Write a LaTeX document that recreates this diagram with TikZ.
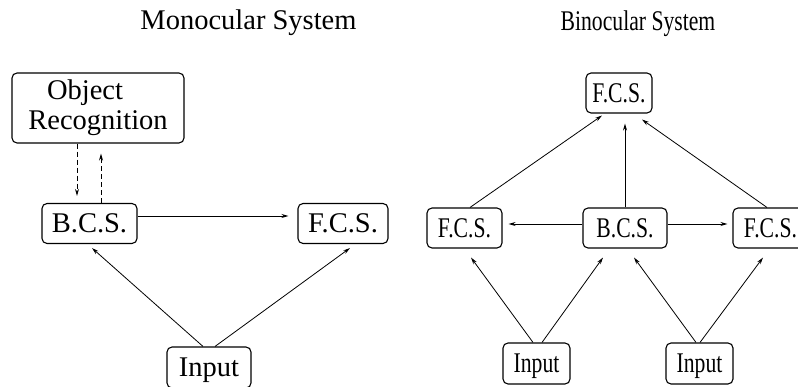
\documentclass[tikz,border=0pt]{standalone}
\usepackage{fontspec}
\setmainfont{Liberation Serif}
\usepackage{graphicx}
\usepackage{tikz}
\usetikzlibrary{arrows.meta}
\tikzset{>={Stealth[length=7pt,width=4pt]}}
\tikzset{
    box/.style={draw, rounded corners=5pt, line width=1.1pt, inner sep=0pt,
        minimum height=40pt, text height=19pt, text depth=0pt},
    conn/.style={->, line width=0.8pt},
    dconn/.style={->, line width=0.8pt, dash pattern=on 5pt off 3pt}
}
\newcommand{\narrow}[1]{\scalebox{0.76}[1]{#1}}

\begin{document}
\begin{tikzpicture}[x=1pt, y=-1pt, font=\fontsize{28.5}{30}\selectfont]
\useasboundingbox (0,0) rectangle (798,387);
    %titles
    \node[anchor=base] (monotitle) at (248.5,30) {Monocular System};
    \node[anchor=base] (binotitle) at (638,31) {\narrow{Binocular System}};
    %monocular system
    \node[draw, rounded corners=5pt, line width=1.1pt, inner sep=0pt,
        minimum width=172pt, minimum height=70pt, align=center]
        (objrec) at (98,108) {Object\hspace*{26pt}\\Recognition};
    \node[box, minimum width=95pt] (monobcs) at (89.5,223.5) {B.C.S.};
    \node[box, minimum width=90pt] (monofcs) at (343,223.5) {F.C.S.};
    \node[box, minimum width=84pt, minimum height=41pt] (monoin) at (209,367.5) {Input};
    \draw[dconn] ([xshift=-21pt]objrec.south) -- ([xshift=-12.5pt,yshift=7pt]monobcs.north);
    \draw[dconn] ([xshift=11.5pt]monobcs.north) -- ([xshift=3pt,yshift=-10pt]objrec.south);
    \draw[conn] ([yshift=7.5pt]monobcs.east) -- ([xshift=-9pt,yshift=7.5pt]monofcs.west);
    \draw[conn] ([xshift=-6pt]monoin.north) -- ([xshift=2.5pt,yshift=-4pt]monobcs.south);
    \draw[conn] ([xshift=6pt]monoin.north) -- ([xshift=7pt,yshift=-4pt]monofcs.south);
    %binocular system
    \node[box, minimum width=66pt] (topfcs) at (619,93) {\narrow{F.C.S.}};
    \node[box, minimum width=75pt] (leftfcs) at (464.5,228) {\narrow{F.C.S.}};
    \node[box, minimum width=84pt] (binobcs) at (625,228) {\narrow{B.C.S.}};
    \node[box, minimum width=75pt] (rightfcs) at (770.5,228) {\narrow{F.C.S.}};
    \node[box, minimum width=67pt, minimum height=41pt] (leftin) at (536.5,363.5) {\narrow{Input}};
    \node[box, minimum width=67pt, minimum height=41pt] (rightin) at (699.5,363.5) {\narrow{Input}};
    \draw[conn] ([xshift=5.5pt]leftfcs.north) -- ([xshift=-17pt,yshift=-2pt]topfcs.south);
    \draw[conn] (binobcs.north) -- ([xshift=6pt,yshift=-10pt]topfcs.south);
    \draw[conn] ([xshift=-3.5pt]rightfcs.north) -- ([xshift=23pt,yshift=-6pt]topfcs.south);
    \draw[conn] ([yshift=4pt]binobcs.west) -- ([xshift=6pt,yshift=4pt]leftfcs.east);
    \draw[conn] ([yshift=4pt]binobcs.east) -- ([xshift=-5pt,yshift=4pt]rightfcs.west);
    \draw[conn] ([xshift=-3.5pt]leftin.north) -- ([xshift=6.5pt,yshift=-9pt]leftfcs.south);
    \draw[conn] ([xshift=5.5pt]leftin.north) -- ([xshift=-22pt,yshift=-9pt]binobcs.south);
    \draw[conn] ([xshift=-3.5pt]rightin.north) -- ([xshift=9pt,yshift=-9pt]binobcs.south);
    \draw[conn] ([xshift=0.5pt]rightin.north) -- ([xshift=-7.5pt,yshift=-9pt]rightfcs.south);
\end{tikzpicture}
\end{document}
